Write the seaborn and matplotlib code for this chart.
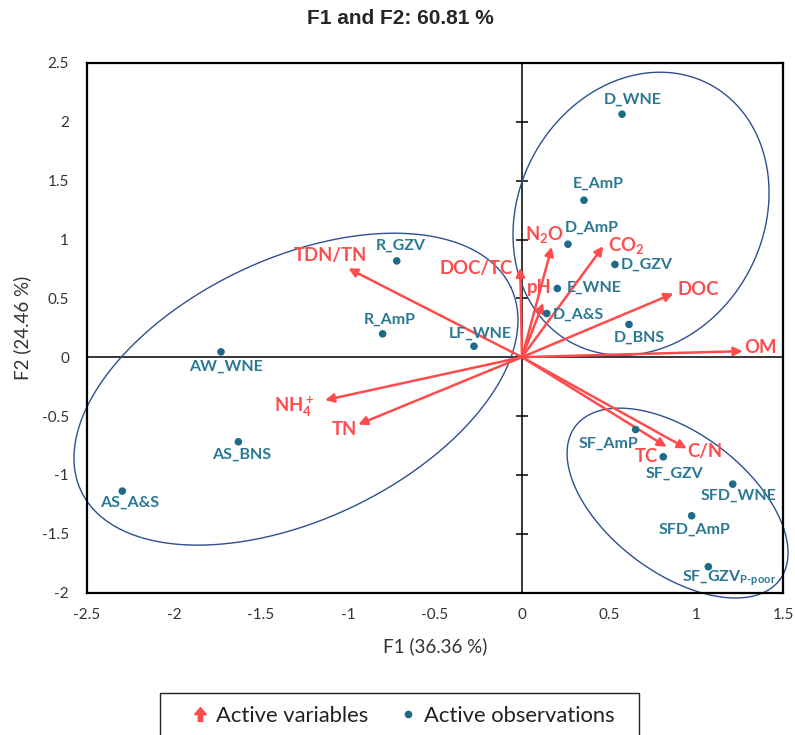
import numpy as np
import pandas as pd
import matplotlib
matplotlib.use("Agg")
import matplotlib.pyplot as plt
import seaborn as sns
from matplotlib.path import Path
from matplotlib.lines import Line2D
from matplotlib.patches import Rectangle

# ---------------- data ----------------
obs_names = ["D_WNE", "E_AmP", "D_AmP", "D_GZV", "E_WNE", "D_A&S", "D_BNS",
             "LF_WNE", "R_GZV", "R_AmP", "AW_WNE", "AS_BNS", "AS_A&S",
             "SF_AmP", "SF_GZV", "SFD_WNE", "SFD_AmP", r"SF_GZV$_{\mathregular{P\text{-}poor}}$"]
obs_f1 = [0.575, 0.356, 0.264, 0.534, 0.203, 0.142, 0.615,
          -0.276, -0.720, -0.801, -1.730, -1.630, -2.297,
          0.653, 0.812, 1.211, 0.975, 1.071]
obs_f2 = [2.065, 1.334, 0.960, 0.788, 0.584, 0.371, 0.278,
          0.093, 0.818, 0.198, 0.045, -0.719, -1.138,
          -0.615, -0.847, -1.079, -1.348, -1.781]

var_names = ["TDN/TN", "DOC/TC", "N$_2$O", "CO$_2$", "pH", "DOC", "OM",
             "NH$_4^+$", "TN", "TC", "C/N"]
var_f1 = [-0.998, -0.010, 0.171, 0.467, 0.122, 0.870, 1.268,
          -1.132, -0.941, 0.831, 0.946]
var_f2 = [0.754, 0.760, 0.937, 0.943, 0.461, 0.541, 0.051,
          -0.365, -0.572, -0.762, -0.776]

x_ticks = [-2.5, -2, -1.5, -1, -0.5, 0, 0.5, 1, 1.5]
y_ticks = [-2, -1.5, -1, -0.5, 0, 0.5, 1, 1.5, 2, 2.5]

title = "F1 and F2: 60.81 %"
xlabel = "F1 (36.36 %)"
ylabel = "F2 (24.46 %)"
legend_labels = ["Active variables", "Active observations"]

# ---------------- style ----------------
RED = "#FF4B4B"
DOT = "#1F6A87"
LAB = "#2C7893"
ELL = "#2F4F8F"

obs_offsets = {  # label centre offset from dot (px right, px up)
    "D_WNE": (11, 14), "E_AmP": (14, 17), "D_AmP": (24, 17), "D_GZV": (32, 0),
    "E_WNE": (37, 1), "D_A&S": (32, -1), "D_BNS": (10, -13), "LF_WNE": (6, 13),
    "R_GZV": (4, 15), "R_AmP": (7, 14), "AW_WNE": (5, -15), "AS_BNS": (3, -13),
    "AS_A&S": (7, -12), "SF_AmP": (-27, -14), "SF_GZV": (11, -17),
    "SFD_WNE": (6, -12), "SFD_AmP": (3, -14),
}
var_offsets = {
    "TDN/TN": (-18, 13), "DOC/TC": (-44, -1), "N$_2$O": (-7, 12), "CO$_2$": (23, 1),
    "pH": (-4, 15), "DOC": (25, 4), "OM": (18, 4), "NH$_4^+$": (-31, -7),
    "TN": (-14, -5), "TC": (-20, -10), "C/N": (18, -3),
}

sns.set_style("white")
plt.rcParams["font.family"] = ["Lato", "DejaVu Sans"]
plt.rcParams["mathtext.fontset"] = "custom"
plt.rcParams["mathtext.rm"] = "Lato:bold"
plt.rcParams["mathtext.default"] = "rm"
plt.rcParams["axes.unicode_minus"] = False

W, H = 795, 735
fig = plt.figure(figsize=(W / 100, H / 100), dpi=100)
L, R, T, B = 87, 783, 63, 592.5
ax = fig.add_axes([L / W, 1 - B / H, (R - L) / W, (B - T) / H])
ax.set_xlim(-2.5, 1.5)
ax.set_ylim(-2, 2.5)
sx = (R - L) / 4.0
sy = (B - T) / 4.5

for s in ax.spines.values():
    s.set_color("black")
    s.set_linewidth(1.6)

ax.axhline(0, color="black", lw=1.1, zorder=1)
ax.axvline(0, color="black", lw=1.1, zorder=1)
ax.plot(np.zeros(len(y_ticks) - 2), y_ticks[1:-1], ls="none", marker="_",
        ms=8, mew=1.1, color="black", zorder=1)

ax.set_xticks(x_ticks)
ax.set_yticks(y_ticks)
ax.set_xticklabels([f"{v:g}" for v in x_ticks])
ax.set_yticklabels([f"{v:g}" for v in y_ticks])
ax.tick_params(length=0, labelsize=11, labelcolor="#333333")
ax.tick_params(axis="x", pad=11)
ax.tick_params(axis="y", pad=13)

# confidence ellipses (centre in data units, semi-axes in px, angle deg)
ellipses = [((0.684, 1.219), 146.5, 122.3, 62.0),
            ((-1.299, -0.272), 237.8, 130.6, 25.4),
            ((0.894, -1.240), 127.8, 69.9, -36.9)]
t = np.linspace(0, 2 * np.pi, 400)
for (cx, cy), a, b, th in ellipses:
    th = np.deg2rad(th)
    ex = cx + (a * np.cos(t) * np.cos(th) - b * np.sin(t) * np.sin(th)) / sx
    ey = cy + (a * np.cos(t) * np.sin(th) + b * np.sin(t) * np.cos(th)) / sy
    ax.plot(ex, ey, color=ELL, lw=1.0, clip_on=False, zorder=2)

# observations
df_obs = pd.DataFrame({"F1": obs_f1, "F2": obs_f2, "name": obs_names})
sns.scatterplot(data=df_obs, x="F1", y="F2", color=DOT, s=30, edgecolor="none",
                ax=ax, legend=False, zorder=4)
for n, x, y in zip(obs_names, obs_f1, obs_f2):
    dx, dy = obs_offsets.get(n, (21, -12))
    ax.annotate(n, xy=(x, y), xytext=(dx * 0.72, dy * 0.72), textcoords="offset points",
                ha="center", va="center", color=LAB, fontsize=11.5, fontweight="bold",
                zorder=5)

# variables
for n, x, y in zip(var_names, var_f1, var_f2):
    ax.annotate("", xy=(x, y), xytext=(0, 0),
                arrowprops=dict(arrowstyle="-|>", color=RED, lw=1.8, mutation_scale=13,
                                shrinkA=0, shrinkB=0), zorder=3)
    dx, dy = var_offsets[n]
    ax.annotate(n, xy=(x, y), xytext=(dx * 0.72, dy * 0.72), textcoords="offset points",
                ha="center", va="center", color=RED, fontsize=13.3, fontweight="bold",
                zorder=5)

ax.set_xlabel("")
ax.set_ylabel("")
fig.text((L + R) / 2 / W, 1 - 646 / H, xlabel, ha="center", va="center",
         fontsize=13.5, color="#333333")
fig.text(22 / W, 1 - (T + B) / 2 / H, ylabel, ha="center", va="center",
         rotation=90, fontsize=13.5, color="#333333")
fig.text(400 / W, 1 - 18 / H, title, ha="center", va="center", fontsize=15,
         fontweight="bold", family=["Liberation Sans Narrow", "Liberation Sans", "DejaVu Sans"])

# legend (frame drawn separately; it runs off the bottom edge as in the original)
arrow_marker = Path([(0, 0.5), (0.42, 0.0), (0.16, 0.0), (0.16, -0.5), (-0.16, -0.5),
                     (-0.16, 0.0), (-0.42, 0.0), (0, 0.5)],
                    [Path.MOVETO] + [Path.LINETO] * 6 + [Path.CLOSEPOLY])
handles = [Line2D([], [], ls="none", marker=arrow_marker, color=RED, ms=10),
           Line2D([], [], ls="none", marker="o", color=DOT, ms=4.5)]
leg_fs = 15.8
em = leg_fs / 72 * 100
leg = fig.legend(handles, legend_labels, loc="center left",
                 bbox_to_anchor=(191.5 / W, 1 - 715.7 / H), ncol=2, frameon=False,
                 fontsize=leg_fs, handlelength=17 / em, handletextpad=7.5 / em,
                 columnspacing=31.5 / em, borderpad=0, borderaxespad=0)
for txt in leg.get_texts():
    txt.set_color("#222222")
fig.patches.append(Rectangle((160 / W, 1 - 745 / H), (639 - 160) / W, (745 - 692.7) / H,
                             transform=fig.transFigure, fill=False,
                             edgecolor="#222222", lw=1.0))

fig.savefig("out.png", dpi=100)
